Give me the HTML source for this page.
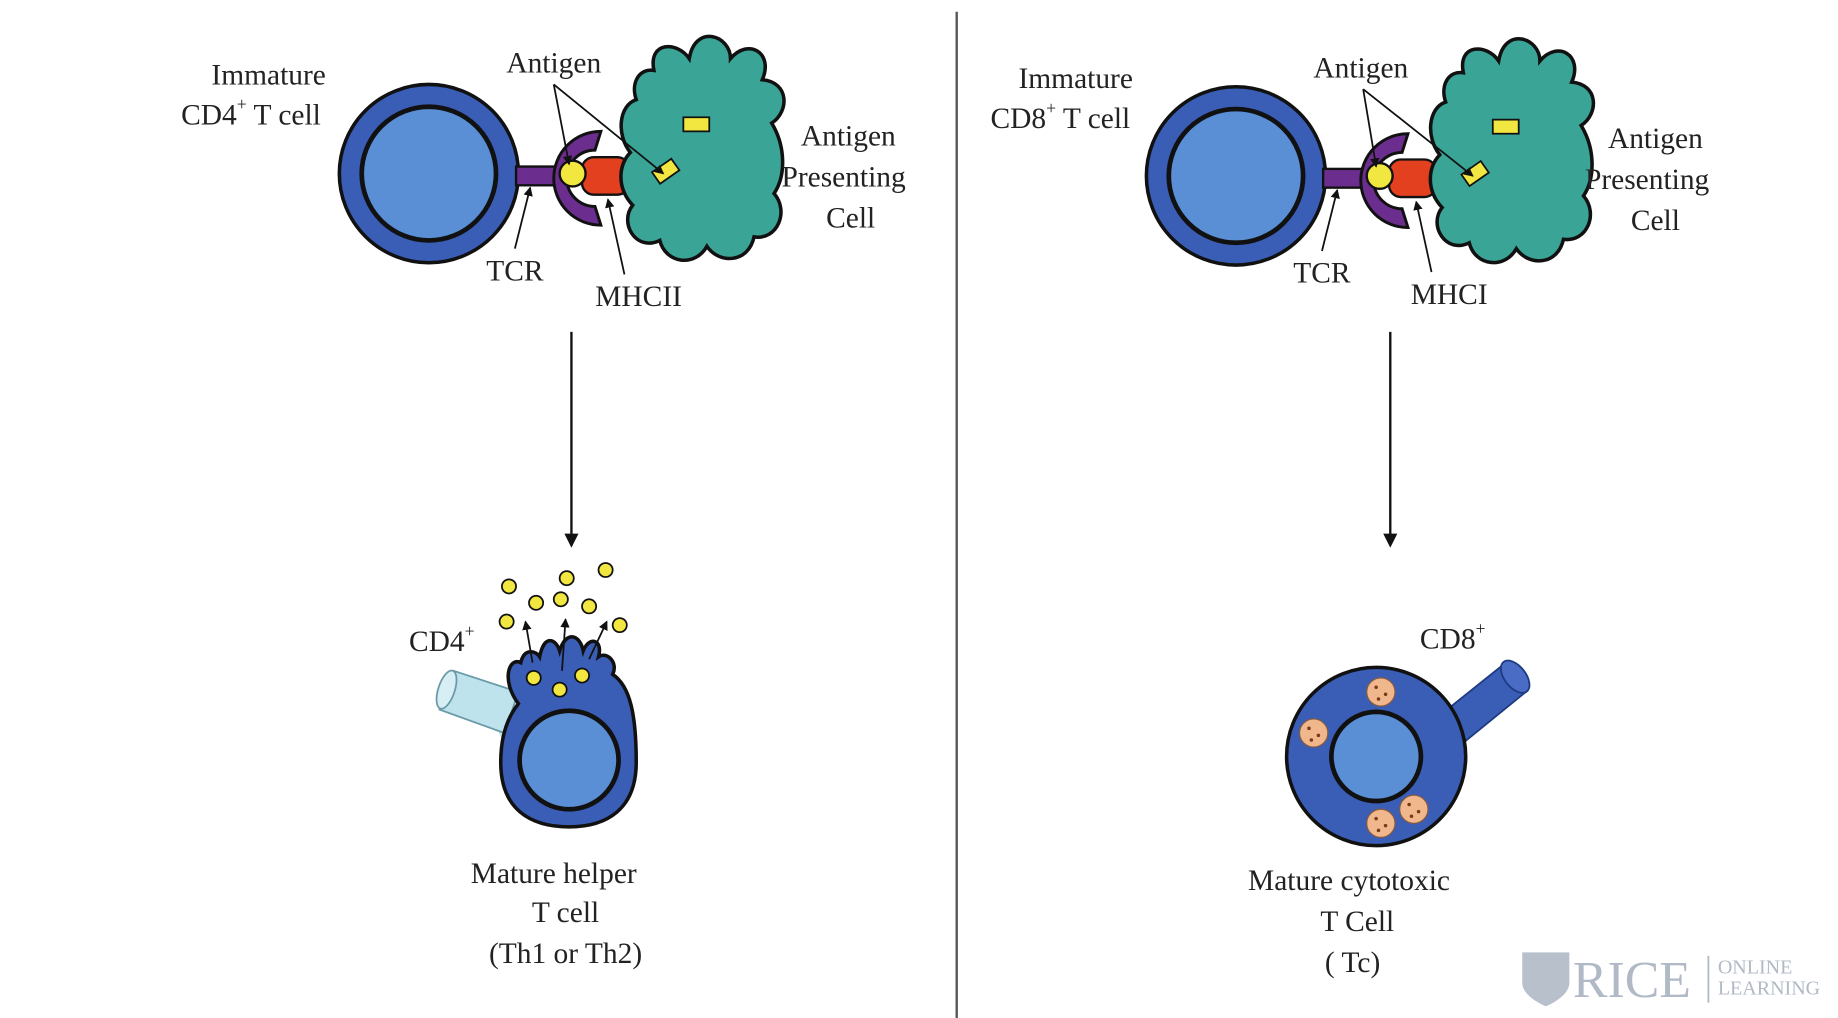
<!DOCTYPE html>
<html><head><meta charset="utf-8"><style>
html,body{margin:0;padding:0;background:#fff;}
svg{display:block;}
text{font-family:"Liberation Serif",serif;fill:#222;}
</style></head><body>
<svg width="1838" height="1018" viewBox="0 0 1560 868" preserveAspectRatio="none">
<defs>
<marker id="ah" markerWidth="8" markerHeight="8" refX="7" refY="4" orient="auto" markerUnits="userSpaceOnUse"><path d="M0,0 L8,4 L0,8 Z" fill="#111"/></marker>
<marker id="ah2" markerWidth="12" markerHeight="12" refX="10" refY="6" orient="auto" markerUnits="userSpaceOnUse"><path d="M0,0 L12,6 L0,12 Z" fill="#111"/></marker>
<g id="apc">
<path d="M-40,-70 C-45,-95 -20,-95 -10,-80 C-5,-110 25,-100 25,-80 C40,-98 62,-85 52,-62 C75,-60 75,-35 60,-25 C72,-5 72,20 62,35 C75,50 65,75 45,72 C40,95 15,95 5,80 C-5,98 -30,95 -35,75 C-55,85 -70,60 -58,45 C-72,30 -70,10 -60,0 C-72,-15 -70,-40 -55,-45 C-60,-60 -52,-72 -40,-70 Z" fill="#3aa597" stroke="#111" stroke-width="3"/>
<rect x="-15" y="-30" width="22" height="12" fill="#f2e640" stroke="#111" stroke-width="1.5"/>
<rect x="-40" y="10" width="20" height="12" fill="#f2e640" stroke="#111" stroke-width="1.5" transform="rotate(-35 -30 16)"/>
</g>
<g id="tcell">
<circle r="76" fill="#3a5db5" stroke="#111" stroke-width="3"/>
<circle r="57" fill="#5a8fd6" stroke="#111" stroke-width="4"/>
</g>
</defs>

<line x1="812" y1="10" x2="812" y2="868" stroke="#555" stroke-width="2"/>

<!-- LEFT PANEL -->
<g>
<use href="#tcell" x="364" y="148"/>
<rect x="438" y="142" width="36" height="16" fill="#6b2d8e" stroke="#111" stroke-width="2"/>
<path d="M510,112 A40,40 0 1,0 510,192 L505,176 A24,24 0 1,1 505,128 Z" fill="#6b2d8e" stroke="#111" stroke-width="2.5"/>
<rect x="494" y="134" width="40" height="32" rx="10" fill="#e2401f" stroke="#111" stroke-width="2"/>
<circle cx="486" cy="148" r="11" fill="#f2e640" stroke="#111" stroke-width="2"/>
<use href="#apc" x="595" y="130"/>
<line x1="470" y1="72" x2="483" y2="140" stroke="#111" stroke-width="1.5" marker-end="url(#ah)"/>
<line x1="470" y1="72" x2="563" y2="148" stroke="#111" stroke-width="1.5" marker-end="url(#ah)"/>
<line x1="437" y1="212" x2="450" y2="160" stroke="#111" stroke-width="1.5" marker-end="url(#ah)"/>
<line x1="530" y1="234" x2="516" y2="170" stroke="#111" stroke-width="1.5" marker-end="url(#ah)"/>
<text x="228" y="72" font-size="25" text-anchor="middle">Immature</text>
<text x="213" y="106" font-size="25" text-anchor="middle">CD4<tspan font-size="15" dy="-12">+</tspan><tspan dy="12"> T cell</tspan></text>
<text x="470" y="62" font-size="25" text-anchor="middle">Antigen</text>
<text x="720" y="124" font-size="25" text-anchor="middle">Antigen</text>
<text x="716" y="159" font-size="25" text-anchor="middle">Presenting</text>
<text x="722" y="194" font-size="25" text-anchor="middle">Cell</text>
<text x="437" y="239" font-size="25" text-anchor="middle">TCR</text>
<text x="542" y="261" font-size="25" text-anchor="middle">MHCII</text>
<line x1="485" y1="283" x2="485" y2="465" stroke="#111" stroke-width="2" marker-end="url(#ah2)"/>

<g>
<path d="M413,600 L430,640 L445,625 L400,575 Z" fill="#bfe3ec"/>
<path d="M385,572 L440,590 L428,625 L373,605 Z" fill="#bfe3ec" stroke="#6a9aa8" stroke-width="1.5"/>
<ellipse cx="379" cy="588" rx="7" ry="17" transform="rotate(18 379 588)" fill="#d6eef4" stroke="#6a9aa8" stroke-width="1.5"/>
<path d="M440,600 C425,580 432,560 442,565 C445,552 455,555 458,560 C462,540 472,545 475,555 C480,538 492,540 495,555 C500,542 512,545 508,560 C515,555 525,565 520,575 C535,585 540,610 540,650 C540,690 515,705 483,705 C450,705 425,690 425,650 C425,625 432,610 440,600 Z" fill="#3a5db5" stroke="#111" stroke-width="3"/>
<circle cx="483" cy="648" r="42" fill="#5a8fd6" stroke="#111" stroke-width="4"/>
<circle cx="453" cy="578" r="6" fill="#f2e640" stroke="#111" stroke-width="1.5"/>
<circle cx="475" cy="588" r="6" fill="#f2e640" stroke="#111" stroke-width="1.5"/>
<circle cx="494" cy="576" r="6" fill="#f2e640" stroke="#111" stroke-width="1.5"/>
<line x1="452" y1="565" x2="446" y2="530" stroke="#111" stroke-width="1.5" marker-end="url(#ah)"/>
<line x1="477" y1="572" x2="480" y2="528" stroke="#111" stroke-width="1.5" marker-end="url(#ah)"/>
<line x1="500" y1="562" x2="515" y2="530" stroke="#111" stroke-width="1.5" marker-end="url(#ah)"/>
<circle cx="432" cy="500" r="6" fill="#f2e640" stroke="#111" stroke-width="1.5"/>
<circle cx="481" cy="493" r="6" fill="#f2e640" stroke="#111" stroke-width="1.5"/>
<circle cx="514" cy="486" r="6" fill="#f2e640" stroke="#111" stroke-width="1.5"/>
<circle cx="455" cy="514" r="6" fill="#f2e640" stroke="#111" stroke-width="1.5"/>
<circle cx="476" cy="511" r="6" fill="#f2e640" stroke="#111" stroke-width="1.5"/>
<circle cx="500" cy="517" r="6" fill="#f2e640" stroke="#111" stroke-width="1.5"/>
<circle cx="430" cy="530" r="6" fill="#f2e640" stroke="#111" stroke-width="1.5"/>
<circle cx="526" cy="533" r="6" fill="#f2e640" stroke="#111" stroke-width="1.5"/>
</g>
<text x="375" y="555" font-size="25" text-anchor="middle">CD4<tspan font-size="15" dy="-12">+</tspan></text>
<text x="470" y="753" font-size="25" text-anchor="middle">Mature helper</text>
<text x="480" y="786" font-size="25" text-anchor="middle">T cell</text>
<text x="480" y="821" font-size="25" text-anchor="middle">(Th1 or Th2)</text>
</g>

<!-- RIGHT PANEL -->
<g>
<use href="#tcell" x="1049" y="150"/>
<rect x="1123" y="144" width="36" height="16" fill="#6b2d8e" stroke="#111" stroke-width="2"/>
<path d="M1195,114 A40,40 0 1,0 1195,194 L1190,178 A24,24 0 1,1 1190,130 Z" fill="#6b2d8e" stroke="#111" stroke-width="2.5"/>
<rect x="1179" y="136" width="40" height="32" rx="10" fill="#e2401f" stroke="#111" stroke-width="2"/>
<circle cx="1171" cy="150" r="11" fill="#f2e640" stroke="#111" stroke-width="2"/>
<use href="#apc" x="1282" y="132"/>
<line x1="1157" y1="76" x2="1168" y2="142" stroke="#111" stroke-width="1.5" marker-end="url(#ah)"/>
<line x1="1157" y1="76" x2="1250" y2="150" stroke="#111" stroke-width="1.5" marker-end="url(#ah)"/>
<line x1="1122" y1="214" x2="1135" y2="162" stroke="#111" stroke-width="1.5" marker-end="url(#ah)"/>
<line x1="1215" y1="232" x2="1202" y2="172" stroke="#111" stroke-width="1.5" marker-end="url(#ah)"/>
<text x="913" y="75" font-size="25" text-anchor="middle">Immature</text>
<text x="900" y="109" font-size="25" text-anchor="middle">CD8<tspan font-size="15" dy="-12">+</tspan><tspan dy="12"> T cell</tspan></text>
<text x="1155" y="66" font-size="25" text-anchor="middle">Antigen</text>
<text x="1405" y="126" font-size="25" text-anchor="middle">Antigen</text>
<text x="1398" y="161" font-size="25" text-anchor="middle">Presenting</text>
<text x="1405" y="196" font-size="25" text-anchor="middle">Cell</text>
<text x="1122" y="241" font-size="25" text-anchor="middle">TCR</text>
<text x="1230" y="259" font-size="25" text-anchor="middle">MHCI</text>
<line x1="1180" y1="283" x2="1180" y2="465" stroke="#111" stroke-width="2" marker-end="url(#ah2)"/>

<g>
<path d="M1222,610 L1278,565 L1295,590 L1240,635 Z" fill="#3a5db5" stroke="#1e3a80" stroke-width="1.5"/>
<ellipse cx="1286" cy="577" rx="9" ry="16" transform="rotate(-38 1286 577)" fill="#4a6cc4" stroke="#1e3a80" stroke-width="1.5"/>
<circle cx="1168" cy="645" r="76" fill="#3a5db5" stroke="#111" stroke-width="3"/>
<circle cx="1168" cy="645" r="38" fill="#5a8fd6" stroke="#111" stroke-width="4"/>
<g fill="#f0b78c" stroke="#8a5a3a" stroke-width="1">
<circle cx="1172" cy="590" r="12"/><circle cx="1115" cy="625" r="12"/>
<circle cx="1172" cy="702" r="12"/><circle cx="1200" cy="690" r="12"/>
</g>
<g fill="#7a3a1a">
<circle cx="1168" cy="586" r="1.5"/><circle cx="1176" cy="592" r="1.5"/><circle cx="1170" cy="596" r="1.5"/>
<circle cx="1111" cy="621" r="1.5"/><circle cx="1119" cy="627" r="1.5"/><circle cx="1113" cy="631" r="1.5"/>
<circle cx="1168" cy="698" r="1.5"/><circle cx="1176" cy="704" r="1.5"/><circle cx="1170" cy="708" r="1.5"/>
<circle cx="1196" cy="686" r="1.5"/><circle cx="1204" cy="692" r="1.5"/><circle cx="1198" cy="696" r="1.5"/>
</g>
</g>
<text x="1233" y="553" font-size="25" text-anchor="middle">CD8<tspan font-size="15" dy="-12">+</tspan></text>
<text x="1145" y="759" font-size="25" text-anchor="middle">Mature cytotoxic</text>
<text x="1152" y="794" font-size="25" text-anchor="middle">T Cell</text>
<text x="1148" y="829" font-size="25" text-anchor="middle">(  Tc)</text>
</g>

<g opacity="0.6">
<path d="M1292,812 L1332,812 L1332,838 C1332,850 1312,858 1312,858 C1312,858 1292,850 1292,838 Z" fill="#8a97aa"/>
<text x="1335" y="850" font-size="44" fill="#7d8ba0" style="fill:#7d8ba0">RICE</text>
<line x1="1450" y1="815" x2="1450" y2="855" stroke="#7d8ba0" stroke-width="1.5"/>
<text x="1458" y="830" font-size="17" style="fill:#7d8ba0">ONLINE</text>
<text x="1458" y="848" font-size="17" style="fill:#7d8ba0">LEARNING</text>
</g>
</svg>
</body></html>
